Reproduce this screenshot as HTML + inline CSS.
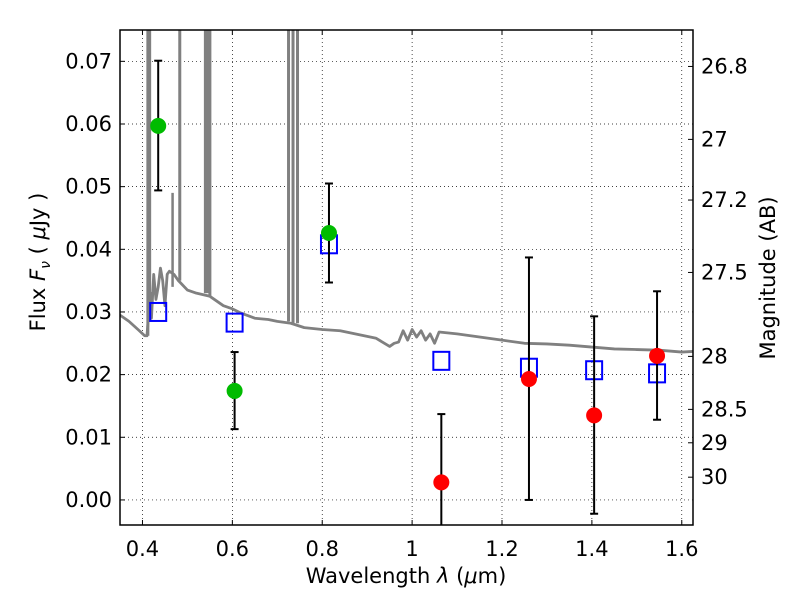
<!DOCTYPE html>
<html><head><meta charset="utf-8"><style>
body{margin:0;background:#fff;font-family:"Liberation Sans","DejaVu Sans",sans-serif}
svg text{font-family:"DejaVu Sans","Liberation Sans",sans-serif}
</style></head><body>
<svg id="c" width="800" height="600"></svg>
<script>
const specX=[0.35,0.37,0.39,0.405,0.41,0.413,0.415,0.418,0.42,0.425,0.43,0.435,0.44,0.445,0.45,0.455,0.46,0.47,0.48,0.5,0.52,0.55,0.58,0.6,0.62,0.65,0.68,0.7,0.73,0.76,0.8,0.84,0.88,0.92,0.95,0.96,0.97,0.98,0.99,1.0,1.01,1.02,1.03,1.04,1.05,1.06,1.1,1.15,1.2,1.25,1.3,1.35,1.4,1.45,1.5,1.55,1.6,1.625];
const specY=[0.0295,0.0285,0.0272,0.0262,0.0262,0.029,0.031,0.033,0.029,0.036,0.032,0.034,0.037,0.035,0.031,0.036,0.0365,0.036,0.035,0.0335,0.033,0.0325,0.031,0.0305,0.0298,0.029,0.0288,0.0285,0.0282,0.0275,0.0272,0.027,0.0264,0.0258,0.0245,0.025,0.0252,0.027,0.0255,0.0272,0.026,0.027,0.0255,0.0265,0.025,0.0268,0.0265,0.026,0.0255,0.025,0.0249,0.0247,0.0244,0.0241,0.024,0.0239,0.0236,0.0237];
const lineWaves=[0.412,0.416,0.483,0.54,0.545,0.55,0.725,0.735,0.745];
const spikeWave=[0.467];const spikeTop=[0.049];
const bandX=[0.435,0.605,0.815,1.065,1.26,1.405,1.545];
const obsFlux=[0.0597,0.0174,0.0426,0.0028,0.0193,0.0135,0.023];
const errLo=[0.0494,0.0113,0.0347,-0.006,0.0,-0.0022,0.0128];
const errHi=[0.0701,0.0236,0.0505,0.0137,0.0387,0.0293,0.0333];
const obsColor=['#00bb00','#00bb00','#00bb00','#ff0000','#ff0000','#ff0000','#ff0000'];
const modelFlux=[0.030,0.0283,0.0408,0.0222,0.0211,0.0207,0.0202];
const xTicks=[0.4,0.6,0.8,1.0,1.2,1.4,1.6];
const xTickLabels=['0.4','0.6','0.8','1','1.2','1.4','1.6'];
const yTicks=[0,0.01,0.02,0.03,0.04,0.05,0.06,0.07];
const yTickLabels=['0.00','0.01','0.02','0.03','0.04','0.05','0.06','0.07'];
const magTicks=[26.8,27,27.2,27.5,28,28.5,29,30];
const magLabels=['26.8','27','27.2','27.5','28','28.5','29','30'];

const L=120,R=693,T=30,B=525,x0=0.35,x1=1.625,y0=-0.004,y1=0.075;
const X=v=>L+(v-x0)/(x1-x0)*(R-L), Y=v=>B-(v-y0)/(y1-y0)*(B-T);
const svg=document.getElementById('c'),NS='http://www.w3.org/2000/svg';
function el(t,a,p){const e=document.createElementNS(NS,t);for(const k in a)e.setAttribute(k,a[k]);(p||svg).appendChild(e);return e;}
const clip=el('clipPath',{id:'cl'});el('rect',{x:L,y:T,width:R-L,height:B-T},clip);
xTicks.forEach((v,i)=>{
 const g=el('line',{x1:X(v),x2:X(v),y1:T,y2:B,stroke:'#000','stroke-width':0.7,'stroke-dasharray':'1,3'});
 
 el('line',{x1:X(v),x2:X(v),y1:B,y2:B-5,stroke:'#000'});el('line',{x1:X(v),x2:X(v),y1:T,y2:T+5,stroke:'#000'});
 const t=el('text',{x:X(v),y:B+31,'text-anchor':'middle','font-size':21});t.textContent=xTickLabels[i];
 
});
yTicks.forEach((v,i)=>{
 const g=el('line',{x1:L,x2:R,y1:Y(v),y2:Y(v),stroke:'#000','stroke-width':0.7,'stroke-dasharray':'1,3'});
 
 el('line',{x1:L,x2:L+5,y1:Y(v),y2:Y(v),stroke:'#000'});
 const t=el('text',{x:L-8,y:Y(v)+7,'text-anchor':'end','font-size':21});t.textContent=yTickLabels[i];
 
});
magTicks.forEach((m,i)=>{
 const f=Math.pow(10,(23.9-m)/2.5);const y=Y(f);
 el('line',{x1:R,x2:R-5,y1:y,y2:y,stroke:'#000'});
 const t=el('text',{x:R+8,y:y+7,'font-size':21});t.textContent=magLabels[i];
 
});
const g=el('g',{'clip-path':'url(#cl)'});

let d=specX.map((v,i)=>(i?'L':'M')+X(v)+','+Y(specY[i])).join(' ');
const sp=el('path',{d:d,fill:'none',stroke:'#808080','stroke-width':2.8,'stroke-linejoin':'round'},g);

lineWaves.forEach(w=>{
 let base=specY[0];for(let i=0;i<specX.length-1;i++)if(w>=specX[i]&&w<=specX[i+1])base=specY[i];
 const l=el('line',{x1:X(w),x2:X(w),y1:Y(base),y2:T-5,stroke:'#808080','stroke-width':3},g);
 
});
spikeWave.forEach((w,i)=>{
 const l=el('line',{x1:X(w),x2:X(w),y1:Y(0.034),y2:Y(spikeTop[i]),stroke:'#808080','stroke-width':2.5},g);
 
});
bandX.forEach((w,i)=>{
 const s=el('rect',{x:X(w)-8,y:Y(modelFlux[i])-9,width:16,height:18,fill:'none',stroke:'#0000ff','stroke-width':2},g);
 
});
bandX.forEach((w,i)=>{
 const e=el('g',{},g);
 
 el('line',{x1:X(w),x2:X(w),y1:Y(errLo[i]),y2:Y(errHi[i]),stroke:'#000','stroke-width':2},e);
 [errLo[i],errHi[i]].forEach(v=>el('line',{x1:X(w)-4,x2:X(w)+4,y1:Y(v),y2:Y(v),stroke:'#000','stroke-width':2},e));
 const c=el('circle',{cx:X(w),cy:Y(obsFlux[i]),r:8,fill:obsColor[i]},g);
 
});
const fr=el('rect',{x:L,y:T,width:R-L,height:B-T,fill:'none',stroke:'#000','stroke-width':1.5});

let t=el('text',{x:406,y:583,'text-anchor':'middle','font-size':21,'xml:space':'preserve'});
t.innerHTML='Wavelength  <tspan font-style="italic">λ</tspan> (<tspan font-style="italic">μ</tspan>m)';

t=el('text',{x:45,y:262,'text-anchor':'middle','font-size':21,'xml:space':'preserve',transform:'rotate(-90 45 262)'});
t.innerHTML='Flux  <tspan font-style="italic">F</tspan><tspan font-style="italic" font-size="14" dy="5">ν</tspan><tspan dy="-5">  (  </tspan><tspan font-style="italic">μ</tspan>Jy )';

t=el('text',{x:775,y:278,'text-anchor':'middle','font-size':21,transform:'rotate(-90 775 278)'});
t.textContent='Magnitude (AB)';

</script>
</body></html>
